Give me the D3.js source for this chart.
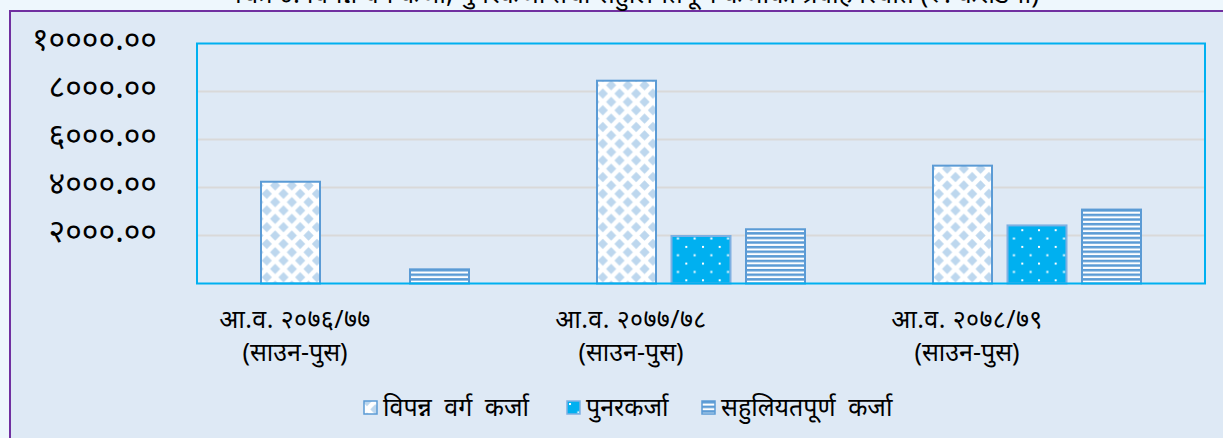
<!DOCTYPE html>
<html>
<head>
<meta charset="utf-8">
<script src="https://cdn.jsdelivr.net/npm/d3@7"></script>
<style>
  body { margin: 0; background: #eef7fd; overflow: hidden; }
  text { font-family: "Noto Sans", "Noto Sans Devanagari", sans-serif; fill: #000; }
</style>
</head>
<body>
<div id="chart"></div>
<script>
// chart data
const categories = ["आ.व. २०७६/७७", "आ.व. २०७७/७८", "आ.व. २०७८/७९"];
const periodLabel = "(साउन-पुस)";
const seriesNames = ["विपन्न वर्ग कर्जा", "पुनरकर्जा", "सहुलियतपूर्ण कर्जा"];
const bipannaKarja = [4240, 8450, 4910];
const punarKarja = [0, 1980, 2420];
const sahuliyatKarja = [590, 2260, 3080];
const yTicks = [2000, 4000, 6000, 8000, 10000];
const titleText = "चित्र ४: विपन्न वर्ग कर्जा, पुनरकर्जा तथा सहुलियतपूर्ण कर्जाको प्रवाह स्थिति (रु. करोडमा)";

const W = 1223, H = 438;
const margin = {top: 43.5, right: 18, bottom: 154.5, left: 197},
    width = W - margin.left - margin.right,
    height = H - margin.top - margin.bottom;

const devDigits = "०१२३४५६७८९";
const toDev = s => String(s).replace(/[0-9]/g, d => devDigits[+d]);

const svg = d3.select("#chart")
  .append("svg")
    .attr("width", W)
    .attr("height", H);

// background + purple frame
svg.append("rect")
  .attr("x", 10).attr("y", 11)
  .attr("width", W).attr("height", H)
  .attr("fill", "#dee9f5")
  .attr("stroke", "#7030a0")
  .attr("stroke-width", 2);

// title (cut off at the top, as in the source)
svg.append("text")
  .attr("x", 637)
  .attr("y", 3)
  .attr("text-anchor", "middle")
  .style("font-size", "26px")
  .text(titleText);

// patterns
const defs = svg.append("defs");
const P = 16.7;
const diamond = defs.append("pattern")
  .attr("id", "pat-diamond")
  .attr("patternUnits", "userSpaceOnUse")
  .attr("x", 3).attr("y", 0)
  .attr("width", P).attr("height", P);
diamond.append("rect").attr("width", P).attr("height", P).attr("fill", "#ffffff");
const dr = 5.1;
[[0,0],[P,0],[0,P],[P,P],[P/2,P/2]].forEach(([cx,cy]) => {
  diamond.append("polygon")
    .attr("points", `${cx-dr},${cy} ${cx},${cy-dr} ${cx+dr},${cy} ${cx},${cy+dr}`)
    .attr("fill", "#bdd7ee");
});

const dots = defs.append("pattern")
  .attr("id", "pat-dots")
  .attr("patternUnits", "userSpaceOnUse")
  .attr("x", 2).attr("y", 2)
  .attr("width", P).attr("height", P);
dots.append("rect").attr("width", P).attr("height", P).attr("fill", "#00b0f0");
[[0,0],[P/2,P/2]].forEach(([cx,cy]) => {
  dots.append("rect")
    .attr("x", cx).attr("y", cy)
    .attr("width", 2).attr("height", 2)
    .attr("fill", "#ffffff");
});

const stripes = defs.append("pattern")
  .attr("id", "pat-stripes")
  .attr("patternUnits", "userSpaceOnUse")
  .attr("width", 10).attr("height", 4.6);
stripes.append("rect").attr("width", 10).attr("height", 4.6).attr("fill", "#ffffff");
stripes.append("rect").attr("width", 10).attr("height", 2.5).attr("fill", "#5b9bd5");

const fills = ["url(#pat-diamond)", "url(#pat-dots)", "url(#pat-stripes)"];
const strokes = ["#5b9bd5", "#7eb0e2", "#5b9bd5"];

const g = svg.append("g")
  .attr("transform", `translate(${margin.left},${margin.top})`);

// scales
const x0 = d3.scaleBand()
  .domain(categories)
  .range([0, width]);
const x1 = d3.scaleBand()
  .domain(seriesNames)
  .range([64, 272])
  .paddingInner(0.208);
const y = d3.scaleLinear()
  .domain([0, 10000])
  .range([height, 0]);

// gridlines
g.append("g")
  .selectAll("line")
  .data(yTicks.slice(0, -1))
  .join("line")
    .attr("x1", 0).attr("x2", width)
    .attr("y1", d => y(d)).attr("y2", d => y(d))
    .attr("stroke", "#d9d9d9")
    .attr("stroke-width", 2);

// y tick labels
g.append("g")
  .selectAll("text")
  .data(yTicks)
  .join("text")
    .attr("x", -40)
    .attr("y", d => y(d) + 6)
    .attr("text-anchor", "end")
    .style("font-size", "32px")
    .text(d => toDev(d3.format(".2f")(d)));

// bars
const rows = categories.map((c, i) => ({
  cat: c,
  vals: [bipannaKarja[i], punarKarja[i], sahuliyatKarja[i]]
}));
g.append("g")
  .selectAll("g")
  .data(rows)
  .join("g")
    .attr("transform", d => `translate(${x0(d.cat)},0)`)
  .selectAll("rect")
  .data(d => d.vals.map((v, k) => ({k, v})).filter(e => e.v > 0))
  .join("rect")
    .attr("x", d => x1(seriesNames[d.k]))
    .attr("y", d => y(d.v))
    .attr("width", x1.bandwidth())
    .attr("height", d => height - y(d.v))
    .attr("fill", d => fills[d.k])
    .attr("stroke", d => strokes[d.k])
    .attr("stroke-width", 2);

// plot frame
g.append("rect")
  .attr("width", width)
  .attr("height", height)
  .attr("fill", "none")
  .attr("stroke", "#00b0f0")
  .attr("stroke-width", 2);

// category labels (two lines)
const catLab = g.append("g")
  .selectAll("g")
  .data(categories)
  .join("g")
    .attr("transform", d => `translate(${x0(d) + x0.bandwidth()/2 - 70},0)`);
catLab.append("text")
  .attr("y", height + 44)
  .attr("text-anchor", "middle")
  .style("font-size", "25px")
  .style("letter-spacing", "0.4px")
  .text(d => d);
catLab.append("text")
  .attr("y", height + 77)
  .attr("text-anchor", "middle")
  .style("font-size", "25px")
  .text(periodLabel);

// legend
const legendX = [364, 567, 702];
const legend = svg.append("g")
  .selectAll("g")
  .data(seriesNames)
  .join("g")
    .attr("transform", (d, i) => `translate(${legendX[i]},401)`);
legend.append("rect")
  .attr("width", 13).attr("height", 13)
  .attr("fill", (d, i) => fills[i])
  .attr("stroke", (d, i) => strokes[i])
  .attr("stroke-width", 1.5);
legend.append("text")
  .attr("x", 19)
  .attr("y", 15)
  .style("font-size", "25px")
  .style("word-spacing", "6px")
  .text(d => d);
</script>
</body>
</html>
